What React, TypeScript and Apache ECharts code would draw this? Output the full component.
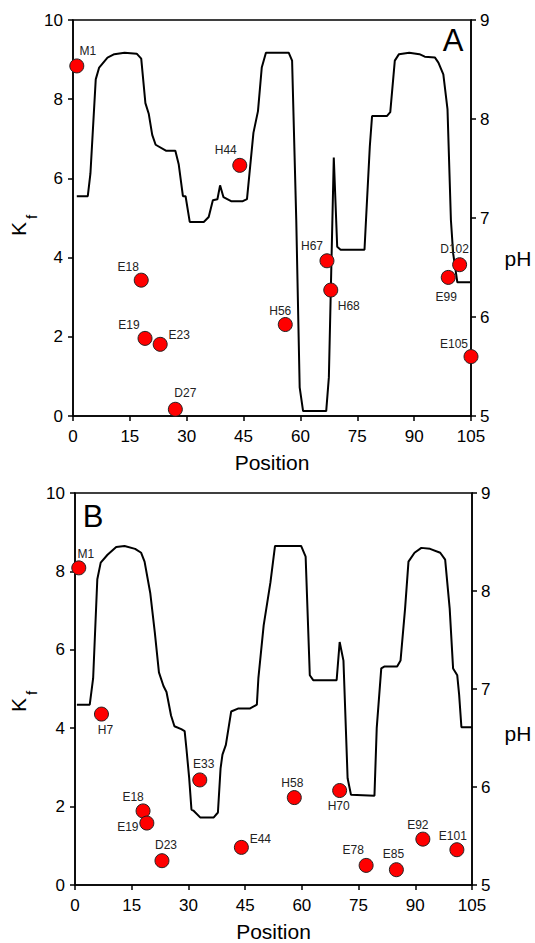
import React, { useEffect, useRef } from "react";
import * as echarts from "echarts";

const FONT = "'Liberation Sans', Arial, Helvetica, sans-serif";

// X ticks
const xTicks = { min: 0, max: 105, interval: 15 };

// Panel A: pH profile (position, pH)
const phPosA = [1, 3.9, 4.6, 6, 6.9, 9.1, 10.9, 13.6, 16.8, 18, 19.1, 20, 20.9, 21.8, 24.5, 27, 27.9, 29, 29.7, 30.8, 34.5, 35.8, 36.9, 38.1, 38.8, 39.7, 41.7, 44.8, 45.9, 47.6, 48.8, 49.8, 50.9, 56.9, 57.8, 58.9, 59.8, 60.7, 66.8, 67.5, 68.8, 69.7, 70.6, 76.9, 77.3, 78.3, 78.9, 82.8, 83.7, 84.9, 86, 88.7, 91.4, 92.8, 95.5, 96.4, 97.7, 98.8, 99.7, 100.3, 101.4, 104.8];
const phValA = [7.22, 7.22, 7.45, 8.4, 8.52, 8.62, 8.655, 8.67, 8.66, 8.61, 8.16, 8.05, 7.84, 7.74, 7.68, 7.68, 7.54, 7.22, 7.22, 6.96, 6.96, 7.01, 7.18, 7.19, 7.33, 7.21, 7.17, 7.17, 7.19, 7.86, 8.08, 8.52, 8.67, 8.67, 8.59, 6.98, 5.29, 5.05, 5.05, 5.39, 7.61, 6.71, 6.68, 6.68, 6.98, 7.72, 8.03, 8.03, 8.07, 8.59, 8.655, 8.67, 8.655, 8.63, 8.62, 8.57, 8.45, 8.1, 6.98, 6.64, 6.35, 6.35];

// Panel A: Kf points
const namesA = ["M1", "H44", "E18", "E19", "E23", "D27", "H56", "H67", "H68", "E99", "D102", "E105"];
const posA = [1, 44, 18, 19, 23, 27, 56, 67, 68, 99, 102, 105];
const kfA = [8.84, 6.33, 3.43, 1.96, 1.81, 0.17, 2.31, 3.92, 3.18, 3.5, 3.82, 1.5];

// Panel B: pH profile
const phPosB = [0.5, 3.9, 4.8, 5.9, 6.8, 8.6, 10.9, 13.1, 15.9, 17.5, 18.4, 19.9, 21.1, 22.2, 23.4, 24.2, 25.4, 26.3, 28.1, 29, 29.5, 30.2, 30.8, 31.3, 33.1, 36.7, 37.8, 38.5, 39, 39.9, 41.3, 43.1, 46.2, 48.1, 48.5, 49.9, 51.7, 52.9, 59.8, 61, 62.1, 63, 69.2, 70, 71, 72.1, 73, 79.2, 79.8, 81, 81.9, 85.2, 86.1, 87.3, 88.2, 89.8, 91.6, 93.9, 96.6, 97.9, 99.1, 100, 101.1, 101.6, 102.2, 105];
const phValB = [6.84, 6.84, 7.11, 8.12, 8.29, 8.37, 8.45, 8.46, 8.43, 8.39, 8.3, 7.98, 7.58, 7.17, 7.03, 6.97, 6.73, 6.62, 6.59, 6.57, 6.38, 6.09, 5.77, 5.76, 5.69, 5.69, 5.74, 6.19, 6.33, 6.43, 6.77, 6.8, 6.8, 6.84, 7.11, 7.65, 8.09, 8.46, 8.46, 8.35, 7.14, 7.09, 7.09, 7.48, 7.29, 6.09, 5.92, 5.91, 6.6, 7.21, 7.23, 7.23, 7.29, 7.82, 8.3, 8.39, 8.44, 8.43, 8.39, 8.32, 7.82, 7.21, 7.14, 6.94, 6.61, 6.61];

// Panel B: Kf points
const namesB = ["M1", "H7", "E18", "E19", "D23", "E33", "E44", "H58", "H70", "E78", "E85", "E92", "E101"];
const posB = [1, 7, 18, 19, 23, 33, 44, 58, 70, 77, 85, 92, 101];
const kfB = [8.09, 4.36, 1.89, 1.58, 0.62, 2.68, 0.96, 2.23, 2.41, 0.5, 0.39, 1.17, 0.9];

// Label offsets (layout only)
const offA = [[11, -15], [-14, -15], [-13, -13], [-16, -13], [19, -9], [10, -16], [-5, -14], [-15, -15], [18, 16], [-2, 20], [-5, -16], [-17, -13]];
const offB = [[7, -14], [4, 16], [-10, -14], [-19, 4], [4, -16], [4, -16], [19, -8], [-2, -15], [-1, 15], [-13, -15], [-3, -16], [-5, -14], [-4, -14]];

const kfTicks = { min: 0, max: 10, interval: 2 };
const phTicks = { min: 5, max: 9, interval: 1 };

function xAxisCfg(gridIndex: number) {
  return {
    type: "value",
    gridIndex,
    ...xTicks,
    name: "Position",
    nameLocation: "middle",
    nameGap: 36,
    nameTextStyle: { fontSize: 21, color: "#000", fontFamily: FONT },
    axisLine: { show: true, onZero: false, lineStyle: { color: "#000", width: 1.5 } },
    axisTick: { show: true, inside: false, length: 5, lineStyle: { color: "#000", width: 1.5 } },
    axisLabel: { fontSize: 17, color: "#000", margin: 12, fontFamily: FONT },
    splitLine: { show: false },
  };
}
function yLeft(gridIndex: number) {
  return {
    type: "value",
    gridIndex,
    position: "left",
    ...kfTicks,
    axisLine: { show: true, onZero: false, lineStyle: { color: "#000", width: 1.5 } },
    axisTick: { show: true, inside: false, length: 5, lineStyle: { color: "#000", width: 1.5 } },
    axisLabel: { fontSize: 17, color: "#000", margin: 10, fontFamily: FONT },
    splitLine: { show: false },
  };
}
function yRight(gridIndex: number) {
  return {
    type: "value",
    gridIndex,
    position: "right",
    ...phTicks,
    axisLine: { show: true, onZero: false, lineStyle: { color: "#000", width: 1.5 } },
    axisTick: { show: true, inside: false, length: 5, lineStyle: { color: "#000", width: 1.5 } },
    axisLabel: { fontSize: 17, color: "#000", margin: 9, fontFamily: FONT },
    splitLine: { show: false },
  };
}

function scatterData(pos: number[], kf: number[], names: string[], off: number[][]) {
  return pos.map((p, i) => ({
    value: [p, kf[i]],
    name: names[i],
    label: { offset: off[i] },
  }));
}

function kfTitle(x: number, y: number) {
  return [
    {
      type: "text",
      x,
      y,
      rotation: Math.PI / 2,
      style: { text: "K", fontSize: 21, fontFamily: FONT, fill: "#000", align: "center", verticalAlign: "middle" },
    },
    {
      type: "text",
      x: x + 13,
      y: y - 12,
      rotation: Math.PI / 2,
      style: { text: "f", fontSize: 15, fontFamily: FONT, fill: "#000", align: "center", verticalAlign: "middle" },
    },
  ];
}

export default function App() {
  const ref = useRef<HTMLDivElement>(null);
  useEffect(() => {
    document.body.style.margin = "0";
    if (!ref.current) return;
    const chart = echarts.init(ref.current, null, { renderer: "svg" });
    const labelStyle = {
      show: true,
      position: "inside",
      formatter: "{b}",
      fontSize: 12,
      color: "#222",
      textBorderWidth: 0,
      textBorderColor: "transparent",
      fontFamily: FONT,
    };
    const itemStyle = { color: "#ff0000", borderColor: "#222", borderWidth: 1, opacity: 1 };
    const option: any = {
      animation: false,
      backgroundColor: "#fff",
      grid: [
        { left: 73, top: 20, width: 398, height: 396, show: true, borderColor: "#000", borderWidth: 1.5, backgroundColor: "transparent" },
        { left: 75, top: 493, width: 397, height: 395, show: true, borderColor: "#000", borderWidth: 1.5, backgroundColor: "transparent" },
      ],
      xAxis: [xAxisCfg(0), xAxisCfg(1)],
      yAxis: [yLeft(0), yRight(0), yLeft(1), yRight(1)],
      series: [
        {
          type: "line",
          xAxisIndex: 0,
          yAxisIndex: 1,
          data: phPosA.map((p, i) => [p, phValA[i]]),
          showSymbol: false,
          symbol: "none",
          lineStyle: { color: "#000", width: 2 },
          z: 2,
        },
        {
          type: "scatter",
          xAxisIndex: 0,
          yAxisIndex: 0,
          data: scatterData(posA, kfA, namesA, offA),
          symbol: "circle",
          symbolSize: 14,
          itemStyle,
          label: labelStyle,
          z: 3,
        },
        {
          type: "line",
          xAxisIndex: 1,
          yAxisIndex: 3,
          data: phPosB.map((p, i) => [p, phValB[i]]),
          showSymbol: false,
          symbol: "none",
          lineStyle: { color: "#000", width: 2 },
          z: 2,
        },
        {
          type: "scatter",
          xAxisIndex: 1,
          yAxisIndex: 2,
          data: scatterData(posB, kfB, namesB, offB),
          symbol: "circle",
          symbolSize: 14,
          itemStyle,
          label: labelStyle,
          z: 3,
        },
      ],
      graphic: [
        ...kfTitle(18, 229),
        ...kfTitle(18, 705),
        { type: "text", x: 518, y: 258, style: { text: "pH", fontSize: 21, fontFamily: FONT, fill: "#000", align: "center", verticalAlign: "middle" } },
        { type: "text", x: 518, y: 733, style: { text: "pH", fontSize: 21, fontFamily: FONT, fill: "#000", align: "center", verticalAlign: "middle" } },
        { type: "text", x: 453, y: 40, style: { text: "A", fontSize: 31, fontFamily: FONT, fill: "#000", align: "center", verticalAlign: "middle" } },
        { type: "text", x: 93, y: 516, style: { text: "B", fontSize: 31, fontFamily: FONT, fill: "#000", align: "center", verticalAlign: "middle" } },
      ],
    };
    chart.setOption(option);
    return () => chart.dispose();
  }, []);
  return <div ref={ref} style={{ width: 535, height: 943 }} />;
}
